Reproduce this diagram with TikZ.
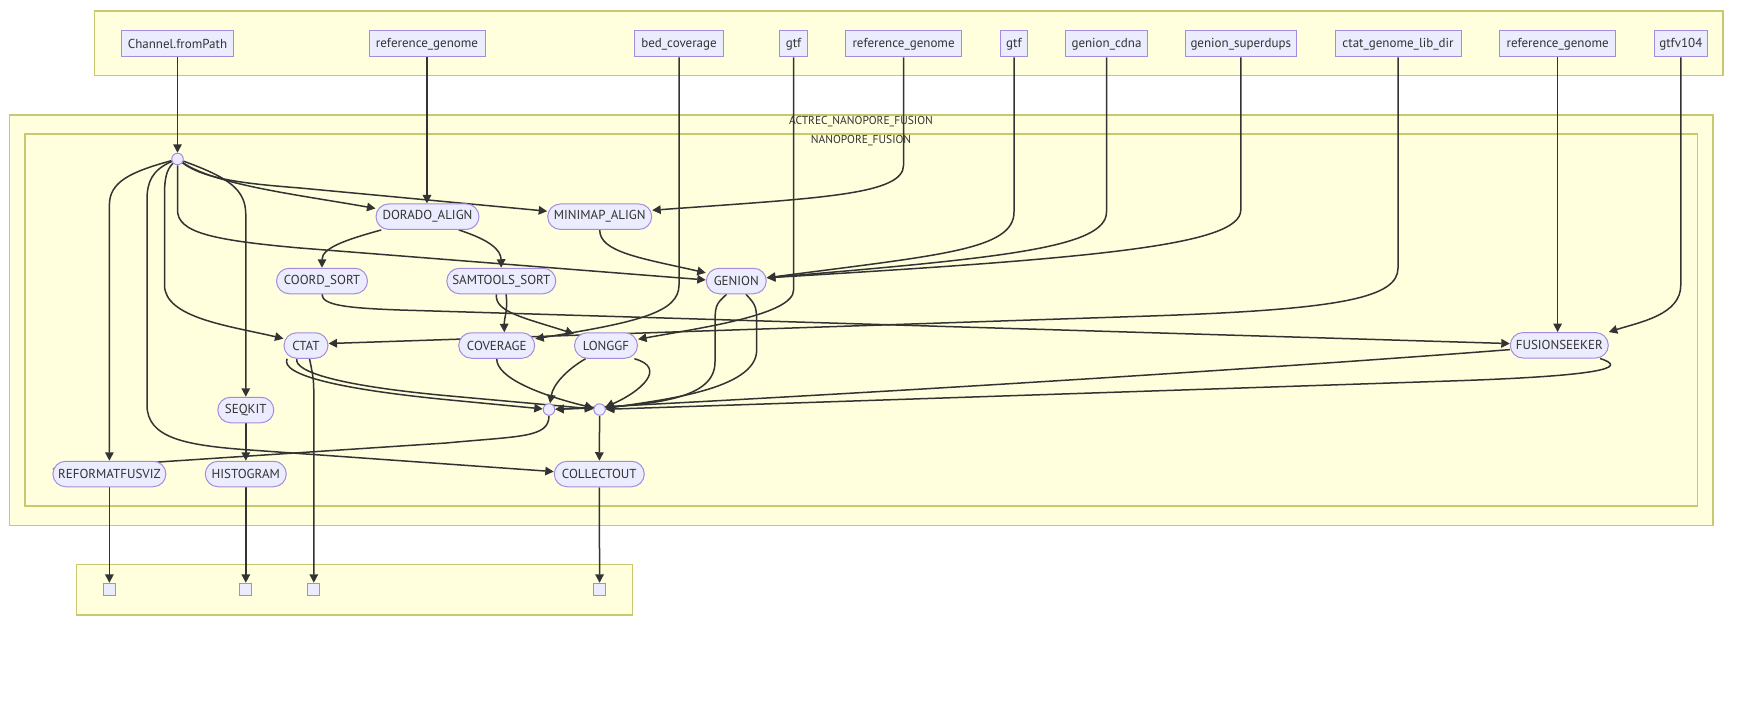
\documentclass[tikz,border=0pt]{standalone}
\usepackage{fontspec}
\setmainfont{PT Sans}
\usetikzlibrary{arrows.meta}
\definecolor{nfill}{HTML}{ECECFF}
\definecolor{nstroke}{HTML}{A48BE0}
\definecolor{cfill}{HTML}{FFFFDE}
\definecolor{cstroke}{HTML}{C8C870}
\definecolor{txt}{HTML}{333333}
\definecolor{edgec}{HTML}{333333}
\pgfdeclarelayer{bg}
\pgfdeclarelayer{edgelayer}
\pgfsetlayers{bg,edgelayer,main}
\begin{document}
\begin{tikzpicture}[x=1pt,y=-1pt,
 inp/.style={draw=nstroke, fill=nfill, line width=1pt, minimum height=26pt, inner sep=0pt, text=txt, font=\fontsize{13}{15}\selectfont},
 proc/.style={inp, rounded corners=12.75pt, minimum height=25.5pt},
 dot/.style={circle, draw=nstroke, fill=nfill, line width=1pt, minimum size=11.5pt, inner sep=0pt},
 sq/.style={rectangle, draw=nstroke, fill=nfill, line width=1pt, minimum size=12pt, inner sep=0pt},
 cluster/.style={draw=cstroke, fill=cfill, line width=1.2pt},
 lbl/.style={text=txt, font=\fontsize{11.5}{14}\selectfont, inner sep=0pt},
 arr/.style={draw=edgec, line width=1.5pt, -{Triangle[length=8.5pt,width=8.5pt]}}
]
\useasboundingbox (0,0) rectangle (1746,717);
\begin{pgfonlayer}{bg}
\fill[white] (0,0) rectangle (1746,717);
\draw[cluster] (94.6,11) rectangle (1723,75.5);
\draw[cluster] (9.6,115) rectangle (1713,525.7);
\draw[cluster] (25,134) rectangle (1697.4,506);
\draw[cluster] (76.8,564.3) rectangle (632.6,615);
\end{pgfonlayer}
\node[lbl] (lblouter) at (861,121.5) {ACTREC\_NANOPORE\_FUSION};
\node[lbl] (lblinner) at (861,140.5) {NANOPORE\_FUSION};

% inputs
\node[inp, minimum width=112pt] (in1) at (177.5,44) {Channel.fromPath};
\node[inp, minimum width=116pt] (in2) at (427,44) {reference\_genome};
\node[inp, minimum width=89pt] (in3) at (679,44) {bed\_coverage};
\node[inp, minimum width=27.5pt] (in4) at (793.6,44) {gtf};
\node[inp, minimum width=116pt] (in5) at (903.6,44) {reference\_genome};
\node[inp, minimum width=27.5pt] (in6) at (1014,44) {gtf};
\node[inp, minimum width=81.5pt] (in7) at (1106.5,44) {genion\_cdna};
\node[inp, minimum width=111pt] (in8) at (1240.8,44) {genion\_superdups};
\node[inp, minimum width=126pt] (in9) at (1398,44) {ctat\_genome\_lib\_dir};
\node[inp, minimum width=116pt] (in10) at (1557.6,44) {reference\_genome};
\node[inp, minimum width=53pt] (in11) at (1680.8,44) {gtfv104};

% processes
\node[dot] (hub) at (177.5,159) {};
\node[proc, minimum width=103pt] (dorado) at (427.5,216.7) {DORADO\_ALIGN};
\node[proc, minimum width=104pt] (mini) at (599.7,216.7) {MINIMAP\_ALIGN};
\node[proc, minimum width=91pt] (coord) at (322,281) {COORD\_SORT};
\node[proc, minimum width=109pt] (sam) at (501.3,281) {SAMTOOLS\_SORT};
\node[proc, minimum width=60pt] (genion) at (736.3,281) {GENION};
\node[proc, minimum width=44pt] (ctat) at (306,345.5) {CTAT};
\node[proc, minimum width=76pt] (cov) at (496.7,345.5) {COVERAGE};
\node[proc, minimum width=63pt] (lgf) at (606,345.5) {LONGGF};
\node[proc, minimum width=98pt] (fusion) at (1559.3,345.3) {FUSIONSEEKER};
\node[proc, minimum width=56pt] (seqkit) at (245.8,410) {SEQKIT};
\node[dot] (c1) at (549,409.5) {};
\node[dot] (c2) at (599.6,409.5) {};
\node[proc, minimum width=113pt] (reformat) at (109.4,474) {REFORMATFUSVIZ};
\node[proc, minimum width=81pt] (hist) at (245.8,474) {HISTOGRAM};
\node[proc, minimum width=90pt] (collect) at (599.3,474) {COLLECTOUT};
\node[sq] (sq1) at (109.4,589.3) {};
\node[sq] (sq2) at (245.8,589.3) {};
\node[sq] (sq3) at (313.8,589.3) {};
\node[sq] (sq4) at (599.6,589.3) {};

\begin{pgfonlayer}{edgelayer}
\draw[arr] (in1.south) -- (hub.north);
\draw[arr] (in2.south) -- (in2.south |- dorado.north);
\draw[arr] (in3.south) -- (679,285) .. controls (679,312) and (640,322) .. (cov.10);
\draw[arr] (in4.south) -- (793.6,290) .. controls (793.6,315) and (700,328) .. (lgf.11);
\draw[arr] (in5.south) -- (903.6,165) .. controls (903.6,195) and (820,198) .. (mini.7);
\draw[arr] (in6.south) -- (1014,212) .. controls (1014,250) and (940,255) .. (genion.6);
\draw[arr] (in7.south) -- (1106.5,212) .. controls (1106.5,248) and (1000,258) .. (genion.6);
\draw[arr] (in8.south) -- (1240.8,210) .. controls (1240.8,245) and (1100,258) .. (genion.6);
\draw[arr] (in9.south) -- (1398,268) .. controls (1398,298) and (1340,309.5) .. (1150,316) -- (ctat.5);
\draw[arr] (in10.south) -- (in10.south |- fusion.north);
\draw[arr] (in11.south) -- (1680.8,285) .. controls (1680.8,315) and (1640,322) .. (fusion.north east);

\draw[arr] (hub) .. controls (215,185) and (300,195) .. (dorado.171);
\draw[arr] (hub) .. controls (205,180) and (250,184) .. (300,188) -- (mini.174);
\draw[arr] (hub) -- (177.5,210) .. controls (177.5,232) and (210,240) .. (300,248) -- (genion.178);
\draw[arr] (hub) .. controls (230,178) and (245.8,190) .. (245.8,215) -- (seqkit);
\draw[arr] (hub) .. controls (166,170) and (164.5,180) .. (164.5,195) -- (164.5,285) .. controls (164.5,318) and (230,326) .. (ctat.163);
\draw[arr] (hub) .. controls (130,172) and (109.4,182) .. (109.4,205) -- (reformat.north);
\draw[arr] (hub) .. controls (152,170) and (147,182) .. (147,200) -- (147,405) .. controls (147,438) and (185,445.4) .. (250,450) -- (collect.177);

\draw[arr] (dorado.196) .. controls (345,240) and (322,248) .. (coord);
\draw[arr] (dorado.-23) .. controls (490,240) and (501,250) .. (sam);
\draw[arr] (mini) .. controls (599.7,252) and (640,258) .. (genion.165);
\draw[arr] (sam.-70) .. controls (508,312) and (504,318) .. (cov.60);
\draw[arr] (sam.-110) .. controls (494,312) and (525,318) .. (lgf.160);
\draw[arr] (coord) .. controls (322,305) and (345,308) .. (400,310) -- (fusion.178);
\draw[arr] (seqkit) -- (hist);

\draw[arr] (ctat.-145) .. controls (280,375) and (340,389.4) .. (450,400) -- (c1);
\draw[arr] (ctat.-125) .. controls (294,372) and (340,386) .. (450,396) -- (c2);
\draw[arr] (cov) .. controls (496.7,378) and (540,395) .. (c2);
\draw[arr] (lgf.213) .. controls (566,370) and (553,385) .. (c1);
\draw[arr] (lgf.-25) .. controls (668,368) and (640,392) .. (c2);
\draw[arr] (genion.234) .. controls (715,305) .. (715,330) -- (715,362) .. controls (715,398) and (660,406) .. (c1);
\draw[arr] (genion.-54) .. controls (756.7,306) .. (756.7,330) -- (756.7,350) .. controls (756.7,390) and (660,400) .. (c2);
\draw[arr] (fusion.185) .. controls (1300,366) and (900,392) .. (c1);
\draw[arr] (fusion.-18) .. controls (1630,368) and (1600,376) .. (1450,381) -- (c2);

\draw[arr] (c1) .. controls (549,438) and (520,436) .. (446,443) -- (reformat.175);
\draw[arr] (c2) -- (collect);
\draw[arr] (reformat) -- (sq1);
\draw[arr] (hist) -- (sq2);
\draw[arr] (ctat.-75) .. controls (313.8,380) .. (313.8,400) -- (sq3);
\draw[arr] (collect) -- (sq4);
\end{pgfonlayer}
\end{tikzpicture}
\end{document}
